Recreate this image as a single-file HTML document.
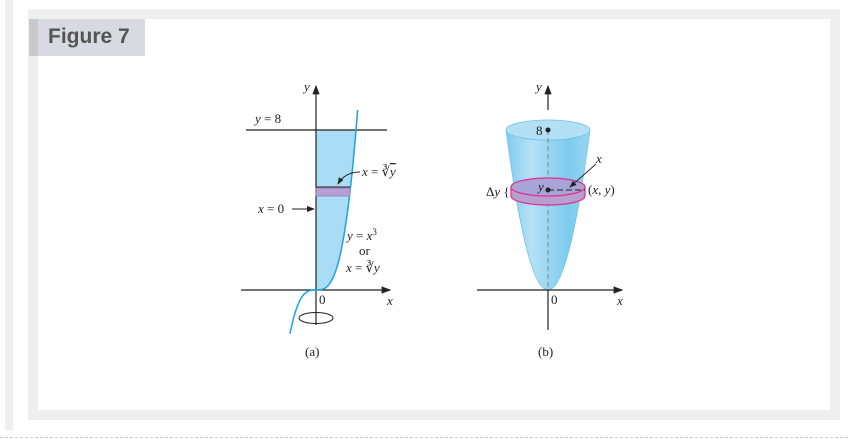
<!DOCTYPE html>
<html><head><meta charset="utf-8"><style>
body{margin:0;width:848px;height:442px;background:#fff;position:relative;overflow:hidden;font-family:"Liberation Sans",sans-serif}
#strip{position:absolute;left:5px;top:0;width:8px;height:430px;background:#efefef}
#frame{position:absolute;left:28px;top:9px;width:812px;height:411px;background:#efefef}
#inner{position:absolute;left:38px;top:19px;width:792px;height:391px;background:#fff}
#title{position:absolute;left:29px;top:19px;width:116px;height:37px;background:#d9d9e1}
#title:before{content:"";position:absolute;left:0;top:0;width:9px;height:37px;background:#c9c9cc}
#title span{position:absolute;left:19px;top:6px;font-weight:bold;font-size:21px;color:#555}
#dash{position:absolute;left:0;top:437px;width:848px;border-top:1px dashed #ccc}
svg{position:absolute;left:0;top:0}
text{font-family:"Liberation Serif",serif;font-size:13px;fill:#222}
</style></head><body>
<div id="strip"></div>
<div id="frame"></div>
<div id="inner"></div>
<div id="title"><span>Figure 7</span></div>
<div id="dash"></div>
<svg width="848" height="442">
<defs>
<marker id="ar" markerWidth="8" markerHeight="8" refX="7" refY="4" orient="auto"><path d="M0,1L8,4L0,7z" fill="#222"/></marker>
<linearGradient id="bg" x1="0" x2="1"><stop offset="0" stop-color="#7fcbee"/><stop offset="0.3" stop-color="#b5e1f6"/><stop offset="0.75" stop-color="#7ccbee"/><stop offset="1" stop-color="#9ad6f2"/></linearGradient>
</defs>
<g>
<path id="shadeA" fill="#aadcf5"/>
<line x1="246" y1="130" x2="387" y2="130" stroke="#222" stroke-width="1.2"/>
<text x="255" y="123"><tspan font-style="italic">y</tspan> = 8</text>
<line x1="316" y1="325" x2="316" y2="86" stroke="#222" stroke-width="1.2" marker-end="url(#ar)"/>
<line x1="241" y1="290" x2="390" y2="290" stroke="#222" stroke-width="1.2" marker-end="url(#ar)"/>
<path id="curveA" fill="none" stroke="#1aa3e0" stroke-width="1.5"/>
<rect x="316" y="188" width="34" height="8" fill="#b4a0d2" stroke="#a07ab8" stroke-width="0.8"/>
<line x1="316" y1="187" x2="350" y2="187" stroke="#222" stroke-width="1"/>
<path d="M360,172 Q345,172 338,184" fill="none" stroke="#222" stroke-width="0.9" marker-end="url(#ar)"/>
<text x="362" y="176"><tspan font-style="italic">x</tspan> = ∛<tspan font-style="italic" text-decoration="overline">y</tspan></text>
<text x="258" y="213"><tspan font-style="italic">x</tspan> = 0</text>
<line x1="292" y1="209" x2="314" y2="209" stroke="#222" stroke-width="1" marker-end="url(#ar)"/>
<text x="347" y="240"><tspan font-style="italic">y</tspan> = <tspan font-style="italic">x</tspan><tspan font-size="9" dy="-5">3</tspan></text>
<text x="359" y="255">or</text>
<text x="346" y="272"><tspan font-style="italic">x</tspan> = ∛<tspan font-style="italic">y</tspan></text>
<text x="319" y="304" font-size="12">0</text>
<text x="387" y="305" font-style="italic">x</text>
<text x="304" y="91" font-style="italic">y</text>
<ellipse cx="316" cy="318" rx="17" ry="5.5" fill="none" stroke="#222" stroke-width="1"/>
<text x="305" y="356">(a)</text>
</g>
<g>
<path id="bowl" fill="url(#bg)" stroke="#6fc3ea" stroke-width="0.8"/>
<ellipse cx="548" cy="130" rx="42" ry="10" fill="#b3e0f5" stroke="#6fc3ea" stroke-width="0.8"/>
<line x1="548" y1="130" x2="548" y2="290" stroke="#777" stroke-width="0.8" stroke-dasharray="5,3"/>
<ellipse cx="548" cy="196" rx="37" ry="9" fill="#b89fd0" stroke="#e0308a" stroke-width="1.2"/>
<rect x="511" y="187" width="74" height="9" fill="#b89fd0"/>
<line x1="511" y1="187" x2="511" y2="196" stroke="#e0308a" stroke-width="1.2"/>
<line x1="585" y1="187" x2="585" y2="196" stroke="#e0308a" stroke-width="1.2"/>
<ellipse cx="548" cy="187" rx="37" ry="9" fill="#a8a4d8" stroke="#e0308a" stroke-width="1.2"/>
<line x1="548" y1="190" x2="585" y2="190" stroke="#222" stroke-width="1" stroke-dasharray="6,3"/>
<circle cx="548" cy="190" r="2.5" fill="#222"/>
<circle cx="548" cy="130" r="2.5" fill="#222"/>
<line x1="548" y1="110" x2="548" y2="86" stroke="#222" stroke-width="1.2" marker-end="url(#ar)"/>
<line x1="548" y1="290" x2="548" y2="330" stroke="#222" stroke-width="1.2"/>
<line x1="477" y1="290" x2="622" y2="290" stroke="#222" stroke-width="1.2" marker-end="url(#ar)"/>
<line x1="596" y1="164" x2="570" y2="187" stroke="#222" stroke-width="0.9" marker-end="url(#ar)"/>
<text x="536" y="135">8</text>
<text x="596" y="163" font-style="italic">x</text>
<text x="538" y="191" font-style="italic">y</text>
<text x="588" y="194">(<tspan font-style="italic">x</tspan>, <tspan font-style="italic">y</tspan>)</text>
<text x="486" y="196">Δ<tspan font-style="italic">y</tspan> {</text>
<text x="551" y="304" font-size="12">0</text>
<text x="617" y="305" font-style="italic">x</text>
<text x="536" y="91" font-style="italic">y</text>
<text x="538" y="356">(b)</text>
</g>
</svg>
<script>
const ox=316,oy=290,sx=40,sy=20;
const yTop=8;
let c="",s="M316,130";
for(let t=-0.65;t<=1.045;t+=0.01){const x=ox+sx*t,y=oy-sy*8*t*t*t;c+=(c?"L":"M")+x.toFixed(1)+","+y.toFixed(1);}
for(let yy=yTop;yy>=0;yy-=0.05){const t=Math.cbrt(Math.max(yy,0)/8);s+="L"+(ox+sx*t).toFixed(1)+","+(oy-sy*yy).toFixed(1);}
s+="L316,290Z";
document.getElementById('curveA').setAttribute('d',c);
document.getElementById('shadeA').setAttribute('d',s);
let L=[],R=[];
for(let yy=0;yy<=160;yy+=2){const w=42*Math.sqrt(yy/160);L.push([548-w,290-yy]);R.push([548+w,290-yy]);}
let b="M"+R.map(p=>p.join(",")).join("L")+"A42,10 0 0 1 506,130L"+L.reverse().map(p=>p.join(",")).join("L")+"Z";
document.getElementById('bowl').setAttribute('d',b);
</script>
</body></html>
